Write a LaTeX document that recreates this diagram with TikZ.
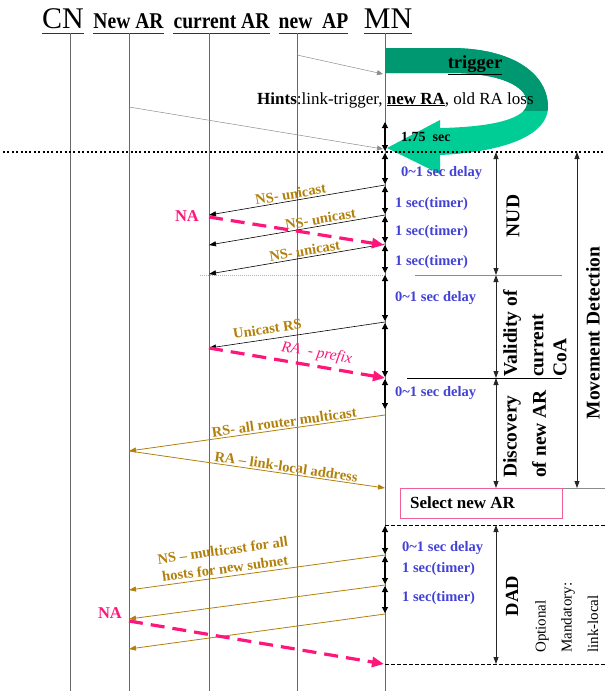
\documentclass[tikz,border=0pt]{standalone}
\usepackage{fontspec}
\setmainfont{Liberation Serif}
\usetikzlibrary{arrows.meta}

\definecolor{msgbrown}{RGB}{178,128,12}
\definecolor{tblue}{RGB}{66,66,214}
\definecolor{hotpink}{RGB}{255,22,122}
\definecolor{boxpink}{RGB}{240,96,152}
\definecolor{gdark}{RGB}{0,152,112}
\definecolor{glight}{RGB}{0,204,150}
\definecolor{life}{RGB}{105,105,105}

\newcommand{\fs}[1]{\fontsize{#1}{1.25\dimexpr#1pt\relax}\selectfont}
\newcommand{\squeeze}[1]{\scalebox{0.87}[1]{#1}}
% outline of the curved trigger arrow
\newcommand{\triggerloop}{(385,48) -- (450,48) .. controls (515,48) and (548,75) .. (548,107)
  .. controls (548,135) and (505,152) .. (440,155) -- (440,174) -- (387,148) -- (440,120)
  -- (440,128) .. controls (495,127) and (527,118) .. (527,103)
  .. controls (527,86) and (500,73) .. (450,73) -- (385,73) -- cycle}

\begin{document}
\begin{tikzpicture}[x=1pt,y=-1pt,
  lifeline/.style={draw=life, line width=0.9pt},
  bighead/.style={inner sep=0pt, anchor=base, font=\fs{30}},
  head/.style={inner sep=0pt, anchor=base, font=\fs{22.5}\bfseries},
  uline/.style={draw=black!80, line width=0.7pt},
  tickarrow/.style={draw=black, line width=1.1pt,
    {Triangle[length=6pt,width=6pt]}-{Triangle[length=6pt,width=6pt]}},
  spanarrow/.style={draw=black!85, line width=0.8pt,
    {Triangle[length=7pt,width=5pt]}-{Triangle[length=7pt,width=5pt]}},
  tlabel/.style={anchor=base west, inner sep=0pt, text=tblue, font=\fs{14.5}\bfseries},
  lhead/.style={{Triangle[length=7pt,width=5pt]}-},
  rhead/.style={-{Triangle[length=7pt,width=5pt]}},
  blackmsg/.style={draw=black, line width=0.6pt},
  brownmsg/.style={draw=msgbrown, line width=0.8pt},
  pinkmsg/.style={draw=hotpink, line width=3.2pt, dash pattern=on 14pt off 8pt,
    -{Triangle[length=12pt,width=10pt]}},
  hintarrow/.style={draw=black!45, line width=0.5pt, -{Triangle[length=6pt,width=5pt]}},
  mlabel/.style={sloped, above, inner sep=1.5pt, text=msgbrown, font=\fs{14.5}\bfseries},
  vlabel/.style={rotate=90, anchor=west, inner sep=0pt, font=\fs{19.5}\bfseries},
  vsmall/.style={rotate=90, anchor=west, inner sep=0pt, font=\fs{15}},
  sep/.style={line width=0.8pt},
  dashsep/.style={draw=black, line width=0.7pt, dash pattern=on 3.5pt off 2.5pt}
]
\useasboundingbox (0,0) rectangle (605,691);

% ---------- lifeline headers ----------
\node[bighead] (cn) at (63,28) {CN};
\node[head] (nar) at (128.5,28) {\squeeze{New AR}};
\node[head] (car) at (221.5,28) {\squeeze{current AR}};
\node[head] (nap) at (313.5,28) {\squeeze{new\ \ AP}};
\node[bighead] (mn) at (388,28) {MN};
\foreach \h in {cn,nar,car,nap,mn}
  \draw[uline] ([yshift=-5pt]\h.base west) -- ([yshift=-5pt]\h.base east);

% ---------- lifelines ----------
\coordinate (cnT) at (70,33);   \coordinate (cnB) at (70,691);
\coordinate (narT) at (129,33); \coordinate (narB) at (129,691);
\coordinate (carT) at (209,33); \coordinate (carB) at (209,691);
\coordinate (napT) at (297,33); \coordinate (napB) at (297,691);
\coordinate (mnT) at (385,33);  \coordinate (mnB) at (385,691);
\foreach \l in {cn,nar,car,nap,mn}
  \draw[lifeline] (\l T) -- (\l B);

% ---------- movement trigger ----------
\fill[glight] \triggerloop;
\begin{scope}
  \clip (380,40) rectangle (560,110);
  \fill[gdark] \triggerloop;
\end{scope}
\node[inner sep=0pt, font=\fs{18.5}\bfseries] (trig) at (475,65) {\underline{trigger}};

\coordinate (apHint) at (297,55);  \coordinate (mnHint1) at (383,74);
\coordinate (arHint) at (129,107); \coordinate (mnHint2) at (383,149);
\draw[hintarrow] (apHint) -- (mnHint1);
\draw[hintarrow] (arHint) -- (mnHint2);
\node[inner sep=0pt, anchor=west, font=\fs{17}] (hints) at (257,100)
  {\textbf{Hints}:link-trigger, \textbf{\underline{new RA}}, old RA loss};

% the 1.75 s interval before loss of the old link
\coordinate (t0) at (385,122);
\draw[tickarrow] (t0) -- (385,151);
\node[anchor=base west, inner sep=0pt, font=\fs{14}\bfseries] (t175) at (401,141) {1.75\ \ sec};

% ---------- link loss ----------
\coordinate (lossL) at (3,152); \coordinate (lossR) at (605,152);
\draw[line width=2pt, dash pattern=on 2pt off 2.4pt] (lossL) -- (lossR);

% ---------- timing intervals on MN ----------
\foreach \a/\b in {152/185,185/215,215/244,244/274,274/322,322/378,378/410,
                   525/555,555/585,585/614}
  \draw[tickarrow] (385,\a+1) -- (385,\b-1);
\node[tlabel] (d1) at (401,176) {0\textasciitilde 1 sec delay};
\node[tlabel] (d2) at (395,207) {1 sec(timer)};
\node[tlabel] (d3) at (395,235) {1 sec(timer)};
\node[tlabel] (d4) at (395,265) {1 sec(timer)};
\node[tlabel] (d5) at (395,301) {0\textasciitilde 1 sec delay};
\node[tlabel] (d6) at (395,396) {0\textasciitilde 1 sec delay};
\node[tlabel] (d7) at (402,551) {0\textasciitilde 1 sec delay};
\node[tlabel] (d8) at (402,572) {1 sec(timer)};
\node[tlabel] (d9) at (402,601) {1 sec(timer)};

% ---------- NUD ----------
\coordinate (c1) at (209,215); \coordinate (m1) at (385,185);
\coordinate (c2) at (209,245); \coordinate (m2) at (385,215);
\coordinate (c3) at (209,274); \coordinate (m3) at (385,244);
\coordinate (cna) at (209,217); \coordinate (mna) at (384,245);
\draw[blackmsg,lhead] (c1) -- node[mlabel,pos=0.47] {NS- unicast} (m1);
\draw[blackmsg,lhead] (c2) -- node[mlabel,pos=0.64] {NS- unicast} (m2);
\draw[blackmsg,lhead] (c3) -- node[mlabel,pos=0.55] {NS- unicast} (m3);
\draw[pinkmsg] (cna) -- (mna);
\node[text=hotpink, font=\fs{16.5}\bfseries, inner sep=0pt] (na1) at (187,216) {NA};

\coordinate (g1) at (200,275); \coordinate (g2) at (385,275);
\draw[black!30, line width=0.8pt, dash pattern=on 1pt off 1pt] (g1) -- (g2);

% ---------- validity of current CoA ----------
\coordinate (c4) at (209,348); \coordinate (m4) at (385,322);
\coordinate (m5) at (385,378);
\draw[blackmsg,lhead] (c4) -- node[mlabel,pos=0.34,inner sep=5pt] {Unicast RS} (m4);
\draw[pinkmsg] (c4) -- node[sloped, above, pos=0.6, inner sep=4pt, text=hotpink,
  font=\fs{15.5}\itshape] {RA\ \ - prefix} (m5);

% ---------- discovery of new AR ----------
\coordinate (n1) at (129,451); \coordinate (m6) at (385,415);
\coordinate (m7) at (385,488);
\draw[brownmsg,lhead] (n1) -- node[mlabel,pos=0.61] {RS- all router multicast} (m6);
\draw[brownmsg,rhead] (n1) -- node[mlabel,pos=0.61] {RA – link-local address} (m7);

% ---------- DAD ----------
\coordinate (n2) at (129,590); \coordinate (m8) at (385,555);
\coordinate (n3) at (129,619); \coordinate (m9) at (385,585);
\coordinate (n4) at (129,649); \coordinate (m10) at (385,614);
\coordinate (nna) at (129,621); \coordinate (mnna) at (384,664);
\draw[brownmsg,lhead] (n2) -- node[mlabel,pos=0.38, align=center, inner sep=3pt]
  {NS – multicast for all\\hosts for new subnet} (m8);
\draw[brownmsg,lhead] (n3) -- (m9);
\draw[brownmsg,lhead] (n4) -- (m10);
\draw[pinkmsg] (nna) -- (mnna);
\node[text=hotpink, font=\fs{16.5}\bfseries, inner sep=0pt] (na2) at (110,613) {NA};

% ---------- phase brackets ----------
\coordinate (p0) at (496,152); \coordinate (p1) at (496,275);
\coordinate (p2) at (496,378); \coordinate (p3) at (496,488);
\coordinate (p4) at (496,525); \coordinate (p5) at (496,664);
\coordinate (q0) at (577,152); \coordinate (q1) at (577,488);
\draw[spanarrow] (p0) -- (p1);
\draw[spanarrow] (p1) -- (p2);
\draw[spanarrow] (p2) -- (p3);
\draw[spanarrow] (p4) -- (p5);
\draw[spanarrow] (q0) -- (q1);

\coordinate (s1a) at (415,275); \coordinate (s1b) at (562,275);
\coordinate (s2a) at (407,378); \coordinate (s2b) at (562,378);
\coordinate (s3a) at (562,488); \coordinate (s3b) at (605,488);
\draw[sep, draw=black!45] (s1a) -- (s1b);
\draw[sep, draw=black] (s2a) -- (s2b);
\draw[sep, draw=black!45] (s3a) -- (s3b);

\node[vlabel, anchor=center] (nud) at (513,216) {NUD};
\node[vlabel] (val1) at (512,377) {Validity of};
\node[vlabel] (val2) at (538,377) {current};
\node[vlabel] (val3) at (560,377) {CoA};
\node[vlabel] (dis1) at (512,478) {Discovery};
\node[vlabel] (dis2) at (539,478) {of new AR};
\node[vlabel, anchor=center] (mvd) at (593,333) {Movement Detection};

% ---------- selecting the new access router ----------
\node[draw=boxpink, line width=1pt, minimum width=162pt, minimum height=30pt,
  inner sep=0pt] (sel) at (481,503) {};
\node[anchor=west, inner sep=0pt, font=\fs{17}\bfseries] (seltext) at (410,503) {Select new AR};

\coordinate (e1a) at (385,525); \coordinate (e1b) at (605,525);
\coordinate (e2a) at (385,664); \coordinate (e2b) at (605,664);
\draw[dashsep] (e1a) -- (e1b);
\draw[dashsep] (e2a) -- (e2b);

\node[vlabel, anchor=center, font=\fs{18.5}\bfseries] (dad) at (512,596) {DAD};
\node[vsmall] (opt) at (542,653) {Optional};
\node[vsmall] (man) at (568,653) {Mandatory:};
\node[vsmall] (ll) at (593,653) {link-local};
\end{tikzpicture}
\end{document}
